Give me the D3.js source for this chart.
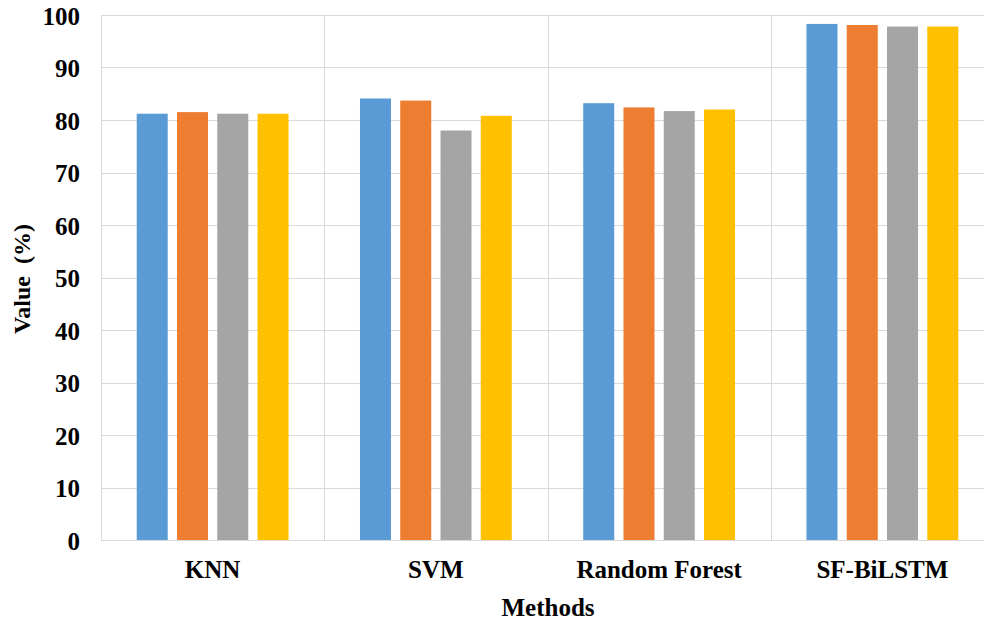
<!DOCTYPE html>
<html>
<head>
<meta charset="utf-8">
<script src="https://cdn.jsdelivr.net/npm/d3@7/dist/d3.min.js"></script>
<style>
  html, body { margin: 0; padding: 0; background: #fff; overflow: hidden; }
  svg { display: block; }
  text { font-family: "Liberation Serif", "Times New Roman", serif; font-weight: bold; fill: #000; }
</style>
</head>
<body>
<svg id="chart" width="984" height="623"></svg>
<script>
const categories = ["KNN", "SVM", "Random Forest", "SF-BiLSTM"];
const seriesNames = ["S1", "S2", "S3", "S4"];
const s1 = [81.2, 84.1, 83.2, 98.3];
const s2 = [81.5, 83.7, 82.4, 98.1];
const s3 = [81.2, 78.0, 81.7, 97.8];
const s4 = [81.2, 80.8, 82.0, 97.8];
const seriesValues = [s1, s2, s3, s4];
const colors = ["#5B9BD5", "#ED7D31", "#A5A5A5", "#FFC000"];
const yTicks = [0, 10, 20, 30, 40, 50, 60, 70, 80, 90, 100];

const svg = d3.select("#chart");
const pLeft = 101, pRight = 994, pTop = 15, pBottom = 540;

const x0 = d3.scaleBand().domain(categories).range([pLeft, pRight]).padding(0);
const cw = x0.bandwidth();
const outer = cw * 0.16;
const x1 = d3.scaleBand().domain(seriesNames).range([outer, cw - outer]).paddingInner(0.23).paddingOuter(0);
const y = d3.scaleLinear().domain([0, 100]).range([pBottom, pTop]);

// horizontal gridlines
svg.append("g").selectAll("line").data(yTicks).join("line")
  .attr("x1", pLeft).attr("x2", pRight)
  .attr("y1", d => Math.round(y(d)) + 0.5).attr("y2", d => Math.round(y(d)) + 0.5)
  .attr("stroke", "#d9d9d9").attr("stroke-width", 1);

// vertical category separators
const bounds = categories.map(c => x0(c)).concat([pRight]);
svg.append("g").selectAll("line").data(bounds).join("line")
  .attr("x1", d => Math.round(d) + 0.5).attr("x2", d => Math.round(d) + 0.5)
  .attr("y1", pTop).attr("y2", pBottom)
  .attr("stroke", "#d9d9d9").attr("stroke-width", 1);

// bars
const groups = svg.append("g").selectAll("g").data(categories).join("g")
  .attr("transform", c => `translate(${x0(c)},0)`);
groups.selectAll("rect")
  .data((c, ci) => seriesNames.map((s, si) => ({ s, si, v: seriesValues[si][ci] })))
  .join("rect")
  .attr("x", d => x1(d.s))
  .attr("width", x1.bandwidth())
  .attr("y", d => y(d.v))
  .attr("height", d => y(0) - y(d.v))
  .attr("fill", d => colors[d.si]);

// y axis labels
const yAxis = d3.axisLeft(y).tickValues(yTicks).tickSize(0).tickPadding(21);
const ya = svg.append("g").attr("transform", `translate(${pLeft},0)`).call(yAxis);
ya.select(".domain").remove();
ya.selectAll("text").attr("font-size", 25).attr("font-family", "Liberation Serif").attr("font-weight", "bold").attr("fill", "#000").attr("dy", "0.36em");

// x axis labels
const xAxis = d3.axisBottom(x0).tickSize(0).tickPadding(20);
const xa = svg.append("g").attr("transform", `translate(0,${pBottom})`).call(xAxis);
xa.select(".domain").remove();
xa.selectAll("text").attr("font-size", 25).attr("font-family", "Liberation Serif").attr("font-weight", "bold").attr("fill", "#000");

// axis titles
svg.append("text")
  .attr("transform", "translate(30,279) rotate(-90)")
  .attr("text-anchor", "middle")
  .attr("font-size", 24)
  .attr("xml:space", "preserve")
  .text("Value  (%)");

svg.append("text")
  .attr("x", 548).attr("y", 616)
  .attr("text-anchor", "middle")
  .attr("font-size", 25)
  .text("Methods");
</script>
</body>
</html>
